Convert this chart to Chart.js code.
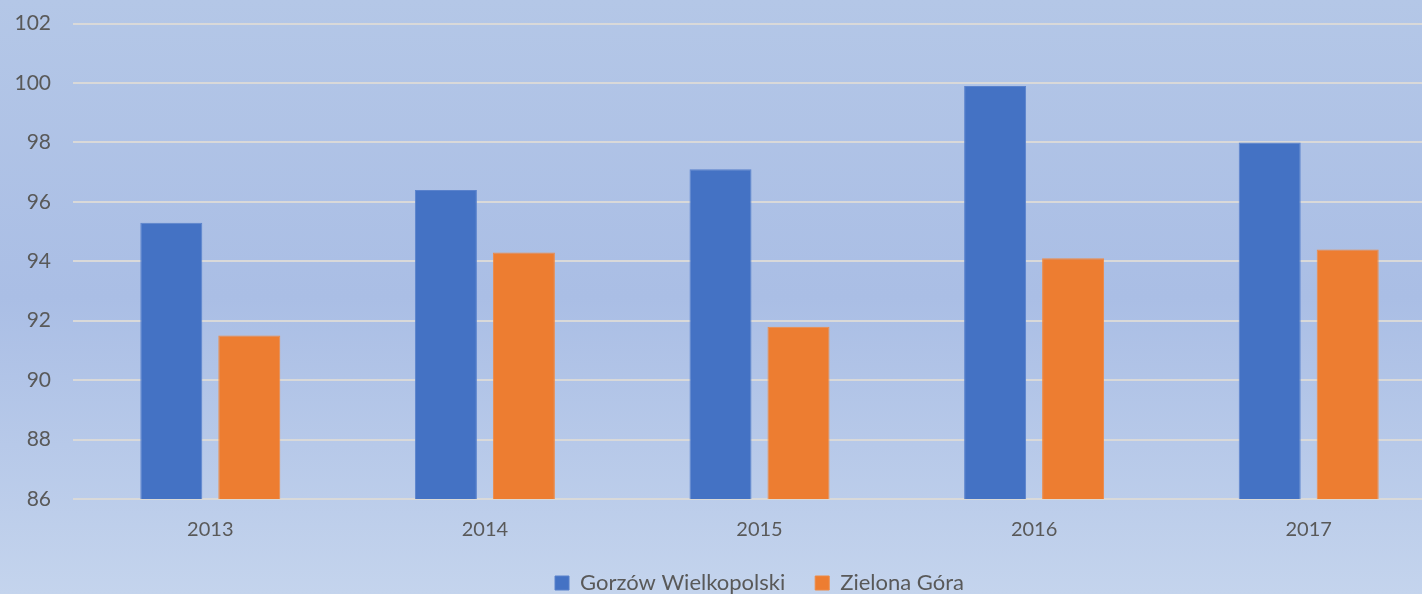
<!DOCTYPE html>
<html>
<head>
<meta charset="utf-8">
<script src="https://cdn.jsdelivr.net/npm/chart.js@4"></script>
<style>
    html, body {
        margin: 0;
        padding: 0;
    }
    body {
        width: 1422px;
        height: 594px;
        overflow: hidden;
        position: relative;
        background: linear-gradient(to bottom, #b4c7e7 0%, #aabee5 50%, #c4d4ed 100%);
    }
    /* the plot area in the original runs past the right edge, so the canvas is a bit larger */
    #wrap {
        position: absolute;
        left: 0;
        top: -11px;
        width: 1446px;
        height: 605px;
    }
</style>
</head>
<body>
<div id="wrap"><canvas id="chart"></canvas></div>
<script>
// Data
const years = ['2013', '2014', '2015', '2016', '2017'];
const gorzow = [95.3, 96.4, 97.1, 99.9, 98.0];
const zielona = [91.5, 94.3, 91.8, 94.1, 94.4];
const seriesNames = ['Gorzów Wielkopolski', 'Zielona Góra'];

const fontFamily = 'Lato, "Open Sans", sans-serif';
const textColor = '#595959';

new Chart(document.getElementById('chart'), {
    type: 'bar',
    data: {
        labels: years,
        datasets: [{
            label: seriesNames[0],
            data: gorzow,
            backgroundColor: '#4472c4',
            borderColor: '#5a82cc',
            borderWidth: 1,
            borderSkipped: false,
        }, {
            label: seriesNames[1],
            data: zielona,
            backgroundColor: '#ed7d31',
            borderColor: '#ef8a45',
            borderWidth: 1,
            borderSkipped: false,
        }],
    },
    options: {
        responsive: true,
        maintainAspectRatio: false,
        animation: false,
        categoryPercentage: 0.568,
        barPercentage: 0.795,
        layout: {
            padding: { top: 4, right: 0, left: 0, bottom: -10 },
        },
        plugins: {
            legend: {
                position: 'bottom',
                fullSize: false,
                labels: {
                    color: textColor,
                    boxWidth: 14,
                    boxHeight: 14,
                    padding: 30,
                    font: { family: fontFamily, size: 22 },
                },
            },
            tooltip: { enabled: false },
        },
        scales: {
            x: {
                grid: { display: false, drawTicks: false },
                border: { display: false },
                ticks: {
                    color: textColor,
                    padding: 19,
                    font: { family: fontFamily, size: 20 },
                },
                afterFit: (axis) => { axis.height = 43; },
            },
            y: {
                min: 86,
                max: 102,
                ticks: {
                    stepSize: 2,
                    color: textColor,
                    padding: 22,
                    font: { family: fontFamily, size: 21 },
                },
                grid: {
                    color: '#d9d9d9',
                    lineWidth: 2,
                    drawTicks: false,
                },
                border: { display: false },
                afterFit: (axis) => { axis.width = 73; },
            },
        },
    },
});
</script>
</body>
</html>
